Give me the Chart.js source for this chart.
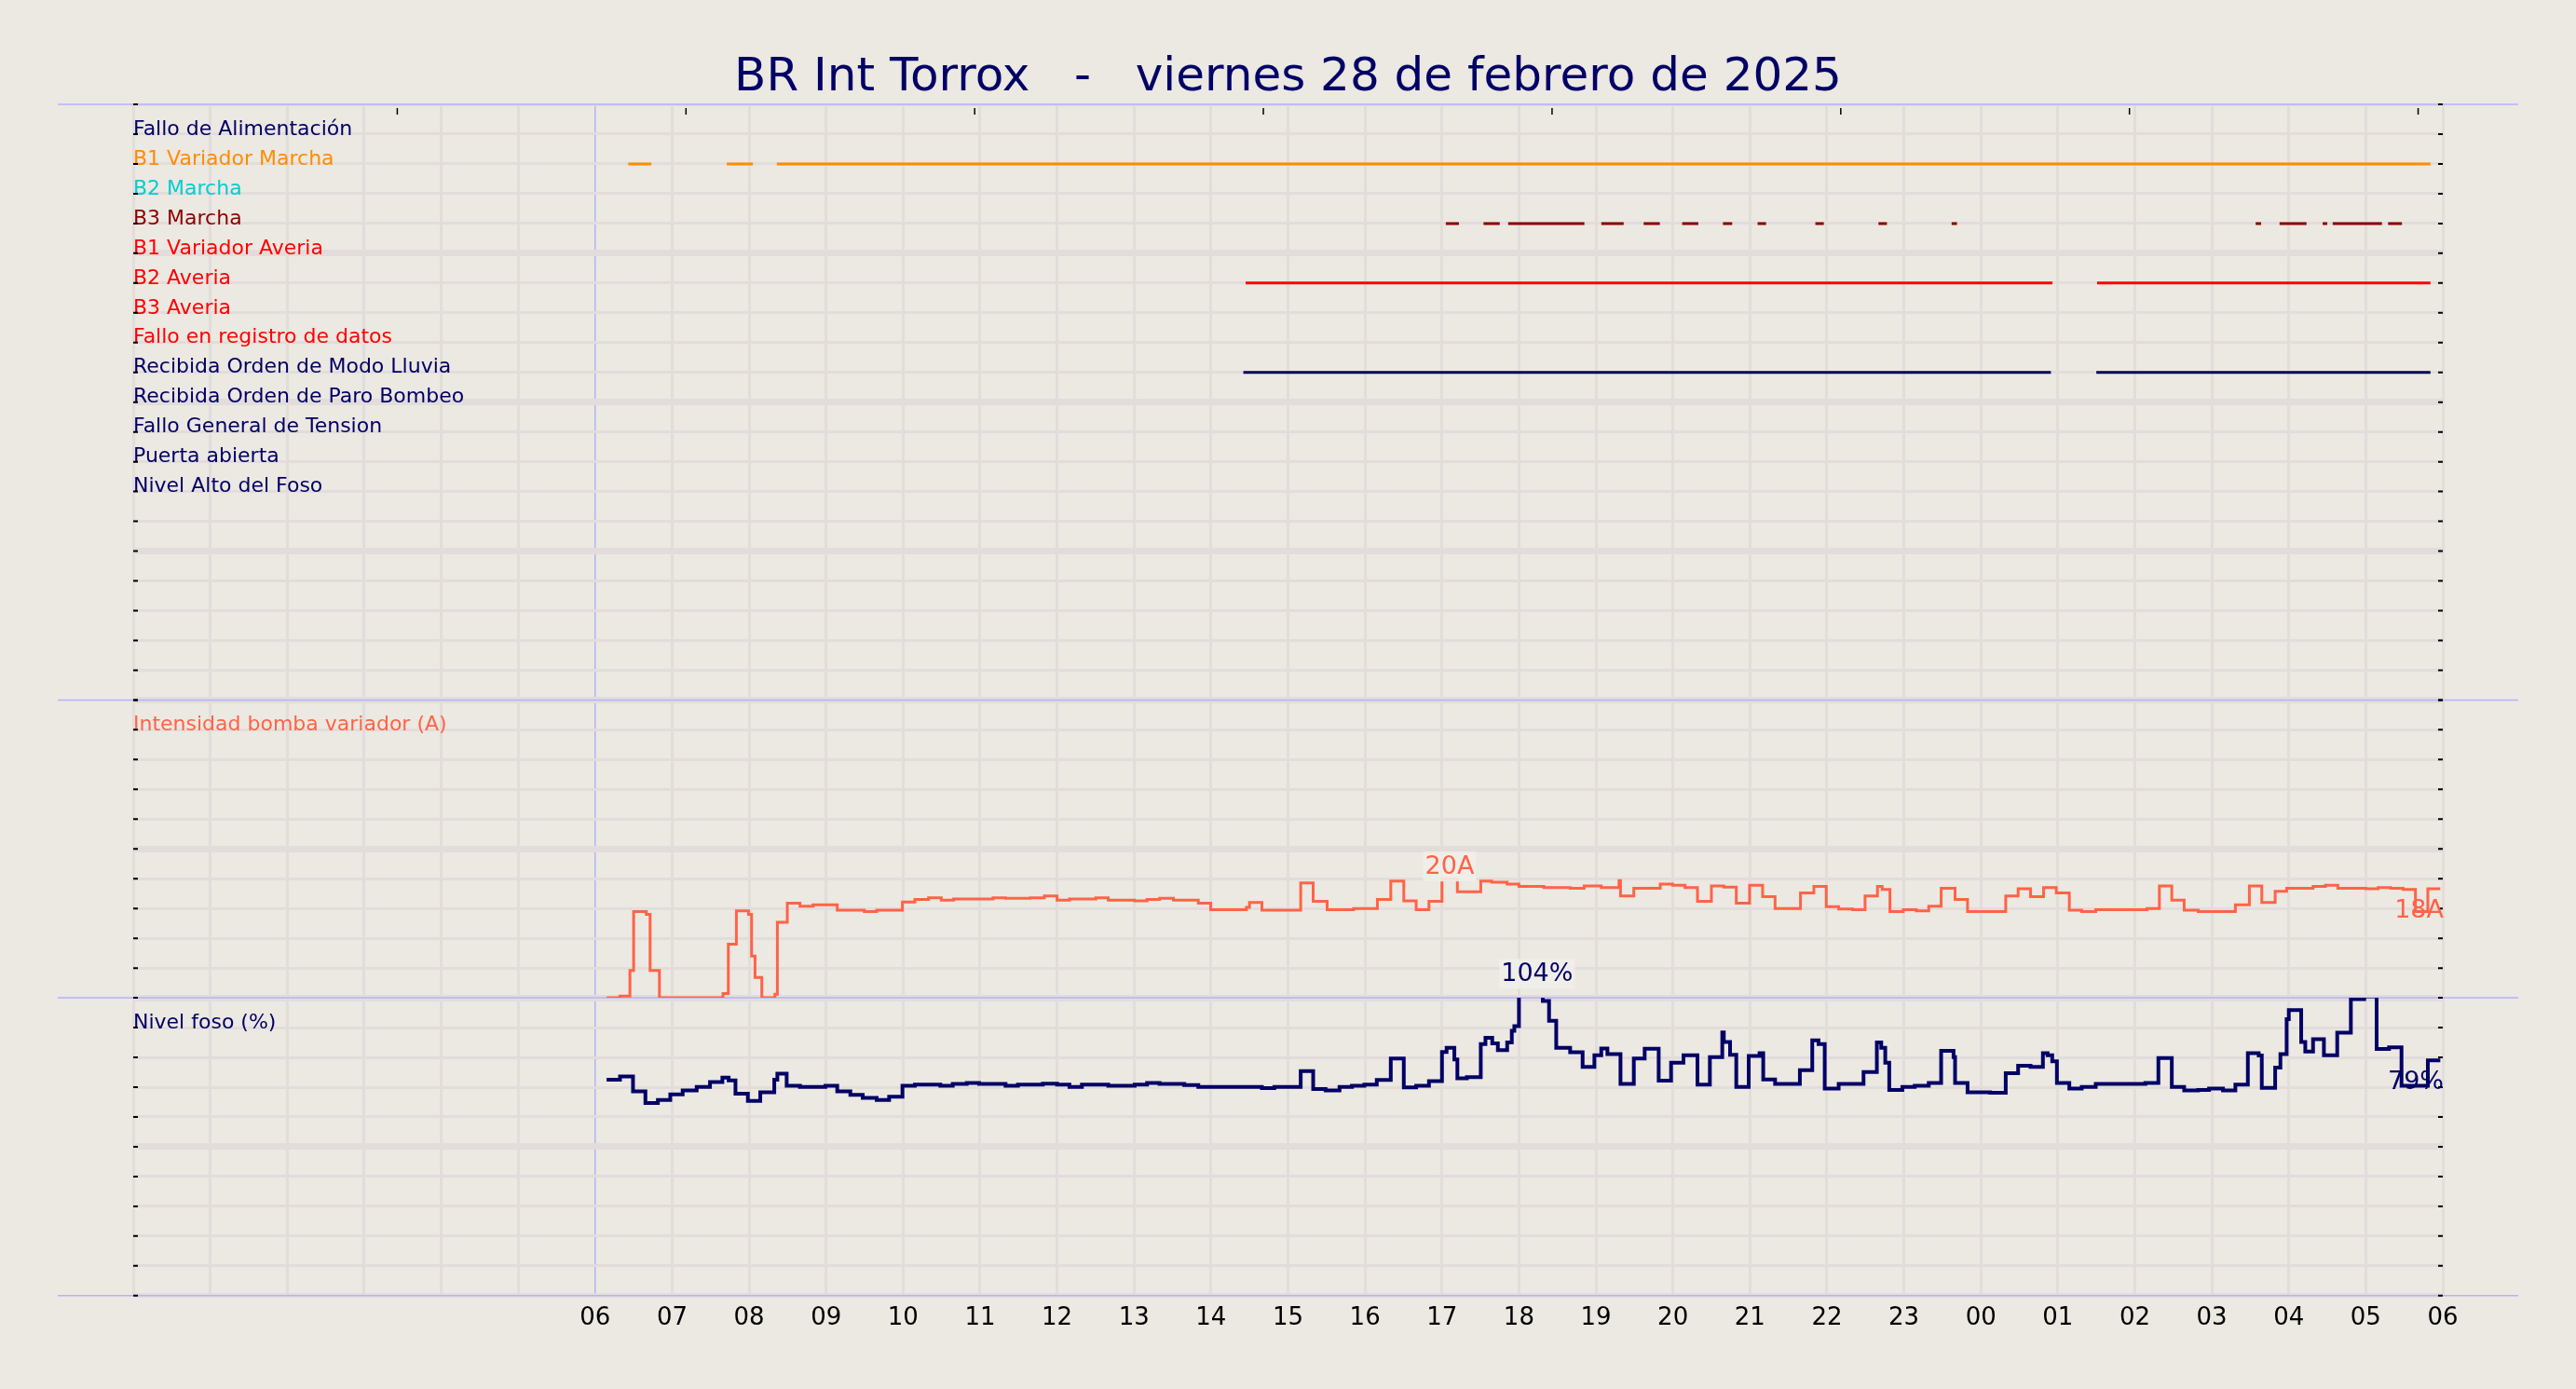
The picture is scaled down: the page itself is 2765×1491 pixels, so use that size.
<!DOCTYPE html>
<html lang="es">
<head>
<meta charset="UTF-8" />
<title>BR Int Torrox</title>
<script src="https://cdn.jsdelivr.net/npm/chart.js"></script>
<style>
  html, body { margin: 0; padding: 0; background: #ece8e2; }
  canvas { display: block; }
</style>
</head>
<body>
<canvas id="grafico" width="2765" height="1491"></canvas>
<script>
const titulo = "BR Int Torrox   -   viernes 28 de febrero de 2025";

// x is hours counted from 06:00; the axis opens six hours earlier
const horasEje = ["06","07","08","09","10","11","12","13","14","15","16","17",
                  "18","19","20","21","22","23","00","01","02","03","04","05","06"];
const marcasSuperiores = [-2.57, 1.18, 4.93, 8.68, 12.43, 16.18, 19.93, 23.68];

const senales = [
  "Fallo de Alimentación", "B1 Variador Marcha", "B2 Marcha", "B3 Marcha",
  "B1 Variador Averia", "B2 Averia", "B3 Averia", "Fallo en registro de datos",
  "Recibida Orden de Modo Lluvia", "Recibida Orden de Paro Bombeo",
  "Fallo General de Tension", "Puerta abierta", "Nivel Alto del Foso"
];

// on/off periods [start, end] in hours
const tramosB1Marcha = [[0.43, 0.73], [1.71, 2.05], [2.36, 23.84]];
const tramosB3Marcha = [
  [11.05, 11.22], [11.54, 11.75], [11.86, 12.85], [13.07, 13.36], [13.62, 13.83],
  [14.12, 14.33], [14.65, 14.77], [15.10, 15.21], [15.85, 15.96], [16.67, 16.78],
  [17.62, 17.69], [21.57, 21.64], [21.88, 22.23], [22.44, 22.50], [22.57, 23.21],
  [23.29, 23.47]
];
const tramosB2Averia = [[8.45, 18.93], [19.51, 23.84]];
const tramosModoLluvia = [[8.42, 18.91], [19.50, 23.84]];

const tiemposIntensidad = [
  0.149, 0.323, 0.452, 0.5, 0.665, 0.714, 0.835, 1.661, 1.73, 1.835, 1.992, 2.032,
  2.077, 2.165, 2.335, 2.367, 2.496, 2.661, 2.831, 3.145, 3.496, 3.657, 3.992, 4.153,
  4.331, 4.496, 4.657, 5.169, 5.331, 5.653, 5.835, 6.0, 6.161, 6.504, 6.665, 7.008,
  7.169, 7.331, 7.512, 7.835, 7.996, 8.46, 8.5, 8.661, 9.165, 9.327, 9.508, 9.851,
  10.161, 10.335, 10.504, 10.665, 10.831, 11.0, 11.2, 11.504, 11.645, 11.847, 12.0,
  12.323, 12.665, 12.847, 13.069, 13.3, 13.319, 13.492, 13.835, 13.996, 14.157,
  14.319, 14.5, 14.661, 14.823, 14.996, 15.165, 15.327, 15.657, 15.831, 15.992,
  16.153, 16.335, 16.496, 16.657, 16.718, 16.819, 16.992, 17.161, 17.323, 17.484,
  17.665, 17.827, 18.323, 18.484, 18.645, 18.815, 18.98, 19.149, 19.31, 19.492,
  20.157, 20.319, 20.48, 20.641, 20.823, 21.306, 21.488, 21.649, 21.823, 21.972,
  22.315, 22.476, 22.637, 23.0, 23.161, 23.323, 23.484, 23.645, 23.806, 23.968
];
const amperios = [
  0, 0.3, 4.6, 14.5, 14.0, 4.6, 0, 0.7, 9.0, 14.6, 14.0, 7.0,
  3.4, 0, 0.6, 12.7, 15.9, 15.4, 15.6, 14.7, 14.5, 14.7, 16.1, 16.5,
  16.8, 16.4, 16.6, 16.8, 16.7, 16.8, 17.1, 16.4, 16.6, 16.8, 16.4, 16.3,
  16.5, 16.7, 16.4, 15.9, 14.8, 15.2, 16.0, 14.7, 19.3, 16.2, 14.8, 15.0,
  16.5, 19.6, 16.3, 14.8, 16.2, 20.0, 17.8, 19.6, 19.4, 19.1, 18.7,
  18.5, 18.4, 18.8, 18.5, 19.7, 17.1, 18.4, 19.1, 18.9, 18.5,
  16.2, 18.8, 18.6, 15.9, 18.9, 17.0, 15.0, 17.6, 18.7, 15.3,
  14.9, 14.8, 17.1, 18.7, 18.2, 14.5, 14.8, 14.6, 15.4, 18.4,
  16.5, 14.5, 17.1, 18.3, 17.0, 18.5, 17.6, 14.7, 14.5, 14.8,
  15.0, 18.8, 16.4, 14.7, 14.5, 15.6, 18.8, 16.0, 17.9, 18.4,
  18.7, 18.9, 18.4, 18.3, 18.5, 18.4, 18.2, 14.5, 18.3, 18.3
];

const tiemposNivel = [
  0.149, 0.323, 0.492, 0.653, 0.815, 0.976, 1.137, 1.319, 1.492, 1.653, 1.734, 1.823,
  1.984, 2.145, 2.327, 2.367, 2.488, 2.661, 2.992, 3.145, 3.315, 3.476, 3.657, 3.819,
  3.992, 4.153, 4.484, 4.645, 4.827, 4.988, 5.331, 5.492, 5.815, 6.0, 6.161, 6.323,
  6.665, 7.008, 7.169, 7.331, 7.653, 7.835, 8.661, 8.823, 9.165, 9.327, 9.488, 9.669,
  9.831, 9.992, 10.153, 10.335, 10.504, 10.665, 10.831, 11.0, 11.06, 11.161, 11.2,
  11.323, 11.504, 11.565, 11.653, 11.726, 11.847, 11.907, 11.94, 12.0, 12.161, 12.31,
  12.391, 12.484, 12.665, 12.827, 12.98, 13.069, 13.149, 13.319, 13.492, 13.633,
  13.815, 13.976, 14.137, 14.319, 14.48, 14.641, 14.661, 14.742, 14.823, 14.984,
  15.125, 15.173, 15.327, 15.649, 15.81, 15.891, 15.972, 16.153, 16.476, 16.649,
  16.706, 16.758, 16.81, 16.98, 17.141, 17.323, 17.484, 17.645, 17.665, 17.827,
  18.121, 18.323, 18.484, 18.645, 18.806, 18.867, 18.927, 18.988, 19.149, 19.31,
  19.492, 20.137, 20.306, 20.48, 20.641, 20.823, 20.964, 21.145, 21.306, 21.468,
  21.609, 21.649, 21.823, 21.891, 21.972, 22.0, 22.161, 22.214, 22.315, 22.456,
  22.629, 22.806, 22.98, 23.141, 23.302, 23.464, 23.806, 23.968
];
const nivelPct = [
  72.5, 73.6, 68.6, 64.7, 65.7, 67.6, 68.9, 70.1, 71.7, 73.2, 72.3, 67.8,
  65.4, 68.3, 72.5, 74.5, 70.5, 70.1, 70.5, 68.6, 67.4, 66.4, 65.7, 66.8,
  70.5, 70.9, 70.5, 71.1, 71.4, 71.1, 70.5, 70.9, 71.2, 70.9, 70.1, 70.9,
  70.5, 70.9, 71.4, 71.1, 70.7, 70.1, 69.7, 70.1, 75.4, 69.4, 68.9, 70.1,
  70.5, 70.9, 72.4, 79.6, 69.9, 70.5, 72.0, 81.8, 83.2, 79.3, 73.0,
  73.4, 84.5, 86.6, 84.7, 82.4, 85.0, 88.9, 90.5, 100.7, 104.0, 98.9,
  92.3, 83.2, 81.7, 76.8, 80.7, 83.0, 81.1, 71.1, 79.6, 82.9,
  72.2, 78.2, 80.7, 70.9, 80.1, 88.4, 85.2, 80.9, 70.1, 80.5,
  81.4, 72.6, 71.1, 75.7, 85.7, 84.5, 69.5, 71.1, 75.1, 85.0,
  83.2, 78.2, 69.1, 70.1, 70.5, 71.4, 82.2, 80.1, 71.4, 68.3,
  68.1, 74.7, 77.2, 76.8, 81.4, 80.7, 78.7, 71.4, 69.5, 70.1,
  71.1, 71.4, 79.8, 70.1, 68.9, 69.1, 69.5, 68.9, 70.9, 81.4,
  80.6, 69.8, 76.6, 81.1, 92.8, 95.9, 85.2, 82.0, 86.1, 80.7,
  88.3, 99.6, 100.5, 82.8, 83.4, 70.5, 79.0, 79.0
];

const fondo = "#ece8e2";
const rejilla = "#e2dddb";
const azul = "#b3b3f7";
const marino = "#000066";
const tomate = "#ff6347";
const coloresSenal = [marino, "#ff8c00", "#00ced1", "#8b0000", "#ff0000", "#ff0000",
  "#ff0000", "#ff0000", marino, marino, marino, marino, marino];
const tramosPorSenal = {
  "B1 Variador Marcha": tramosB1Marcha,
  "B3 Marcha": tramosB3Marcha,
  "B2 Averia": tramosB2Averia,
  "Recibida Orden de Modo Lluvia": tramosModoLluvia
};

const fila = (i) => 19 - i;
const puntos = (ts, vs) => ts.map((t, i) => ({ x: t, y: vs[i] }));
const tramos = (segs, y) => segs.flatMap(([a, b]) => [{ x: a, y }, { x: b, y }, { x: b, y: null }]);

const datasets = [
  { label: "Nivel foso (%)", yAxisID: "yNiv", data: puntos(tiemposNivel, nivelPct),
    borderColor: marino, borderWidth: 4, stepped: true },
  { label: "Intensidad bomba variador (A)", yAxisID: "yInt", data: puntos(tiemposIntensidad, amperios),
    borderColor: tomate, borderWidth: 3, stepped: true }
];
senales.forEach((nombre, i) => {
  if (!tramosPorSenal[nombre]) return;
  datasets.push({ label: nombre, yAxisID: "ySen", data: tramos(tramosPorSenal[nombre], fila(i)),
    borderColor: coloresSenal[i], borderWidth: 3, borderCapStyle: "butt" });
});

function etiquetaMaxima(ctx, texto, x, py, color) {
  ctx.font = '27px "DejaVu Sans"';
  const w = ctx.measureText(texto).width;
  const base = py - 5;
  ctx.fillStyle = "rgba(241,238,234,0.9)";
  ctx.fillRect(x - w / 2 - 2, base - 24, w + 4, 32);
  ctx.fillStyle = color;
  ctx.textAlign = "center";
  ctx.textBaseline = "alphabetic";
  ctx.fillText(texto, x, base);
}

function etiquetaFinal(ctx, texto, x, py, color) {
  ctx.font = '27px "DejaVu Sans"';
  ctx.fillStyle = color;
  ctx.textAlign = "right";
  ctx.textBaseline = "top";
  ctx.fillText(texto, x, py + 10);
}

const pluginPaneles = {
  id: "paneles",
  beforeDatasetsDraw(chart) {
    const { ctx, chartArea: a, scales } = chart;
    ctx.save();
    ctx.strokeStyle = azul;
    ctx.lineWidth = 1.5;
    [scales.ySen.top, scales.ySen.bottom, scales.yInt.bottom, scales.yNiv.bottom].forEach((y) => {
      ctx.beginPath();
      ctx.moveTo(a.left - 81, y);
      ctx.lineTo(a.right + 81, y);
      ctx.stroke();
    });
    ctx.restore();
  },
  afterDatasetsDraw(chart) {
    const { ctx, chartArea: a, scales } = chart;
    ctx.save();
    ctx.strokeStyle = "#000";
    ctx.lineWidth = 2;
    ["ySen", "yInt", "yNiv"].forEach((id) => {
      scales[id].ticks.forEach((t, i) => {
        const y = scales[id].getPixelForTick(i);
        ctx.beginPath();
        ctx.moveTo(a.left, y); ctx.lineTo(a.left + 5, y);
        ctx.moveTo(a.right - 5, y); ctx.lineTo(a.right, y);
        ctx.stroke();
      });
    });
    ctx.lineWidth = 1.5;
    marcasSuperiores.forEach((v) => {
      const x = scales.x.getPixelForValue(v);
      ctx.beginPath();
      ctx.moveTo(x, a.top + 4); ctx.lineTo(x, a.top + 11);
      ctx.stroke();
    });

    [[0, "%", marino], [1, "A", tomate]].forEach(([idx, unidad, color]) => {
      const data = chart.data.datasets[idx].data;
      const meta = chart.getDatasetMeta(idx).data;
      let iMax = 0;
      data.forEach((p, i) => { if (p.y > data[iMax].y) iMax = i; });
      const p0 = meta[iMax], p1 = meta[iMax + 1] || p0;
      etiquetaMaxima(ctx, Math.round(data[iMax].y) + unidad, (p0.x + p1.x) / 2, p0.y, color);
      const ult = data.length - 1;
      etiquetaFinal(ctx, Math.round(data[ult].y) + unidad, a.right + 1, meta[ult].y, color);
    });
    ctx.restore();
  }
};

Chart.defaults.font.family = '"DejaVu Sans", sans-serif';

const ejeY = (peso, max, paso, etiqueta, colorEtiqueta, ancho) => ({
  type: "linear",
  position: "left",
  stack: "paneles",
  stackWeight: peso,
  min: 0,
  max: max,
  border: { display: false },
  grid: { color: rejilla, drawTicks: false, lineWidth: (c) => ancho(c.tick.value) },
  ticks: {
    stepSize: paso, autoSkip: false, mirror: true, padding: 0, labelOffset: -5,
    font: { size: 22 }, color: colorEtiqueta, callback: etiqueta
  }
});

new Chart("grafico", {
  type: "line",
  data: { datasets },
  options: {
    responsive: false,
    animation: false,
    devicePixelRatio: 1,
    elements: { point: { radius: 0 }, line: { tension: 0, borderJoinStyle: "miter" } },
    layout: { padding: { left: 143, right: 143, top: 0, bottom: 51 } },
    plugins: {
      legend: { display: false },
      tooltip: { enabled: false },
      title: {
        display: true, text: titulo, color: marino,
        font: { size: 50, weight: "normal", lineHeight: 1.1 }, padding: { top: 57, bottom: 0 }
      }
    },
    scales: {
      x: {
        type: "linear", min: -6, max: 24,
        border: { display: false },
        grid: {
          drawTicks: false,
          color: (c) => (c.tick.value === 0 ? azul : rejilla),
          lineWidth: (c) => (c.tick.value === 0 ? 1.5 : 3)
        },
        ticks: {
          stepSize: 1, autoSkip: false, maxRotation: 0, padding: 9, color: "#000",
          font: { size: 26 },
          callback: (v) => (v >= 0 ? horasEje[Math.round(v)] : "")
        }
      },
      yNiv: ejeY(1, 100, 10,
        (v) => (v === 90 ? "Nivel foso (%)" : ""), marino,
        (v) => (v === 0 ? 5 : v % 50 === 0 ? 7 : 3)),
      yInt: ejeY(1, 50, 5,
        (v) => (v === 45 ? "Intensidad bomba variador (A)" : ""), tomate,
        (v) => (v % 25 === 0 ? 7 : 3)),
      ySen: ejeY(2, 20, 1,
        (v) => senales[19 - v] || "",
        (c) => coloresSenal[19 - c.tick.value] || marino,
        (v) => (v === 20 ? 3 : v % 5 === 0 ? 7 : 3))
    }
  },
  plugins: [pluginPaneles]
});
</script>
</body>
</html>
